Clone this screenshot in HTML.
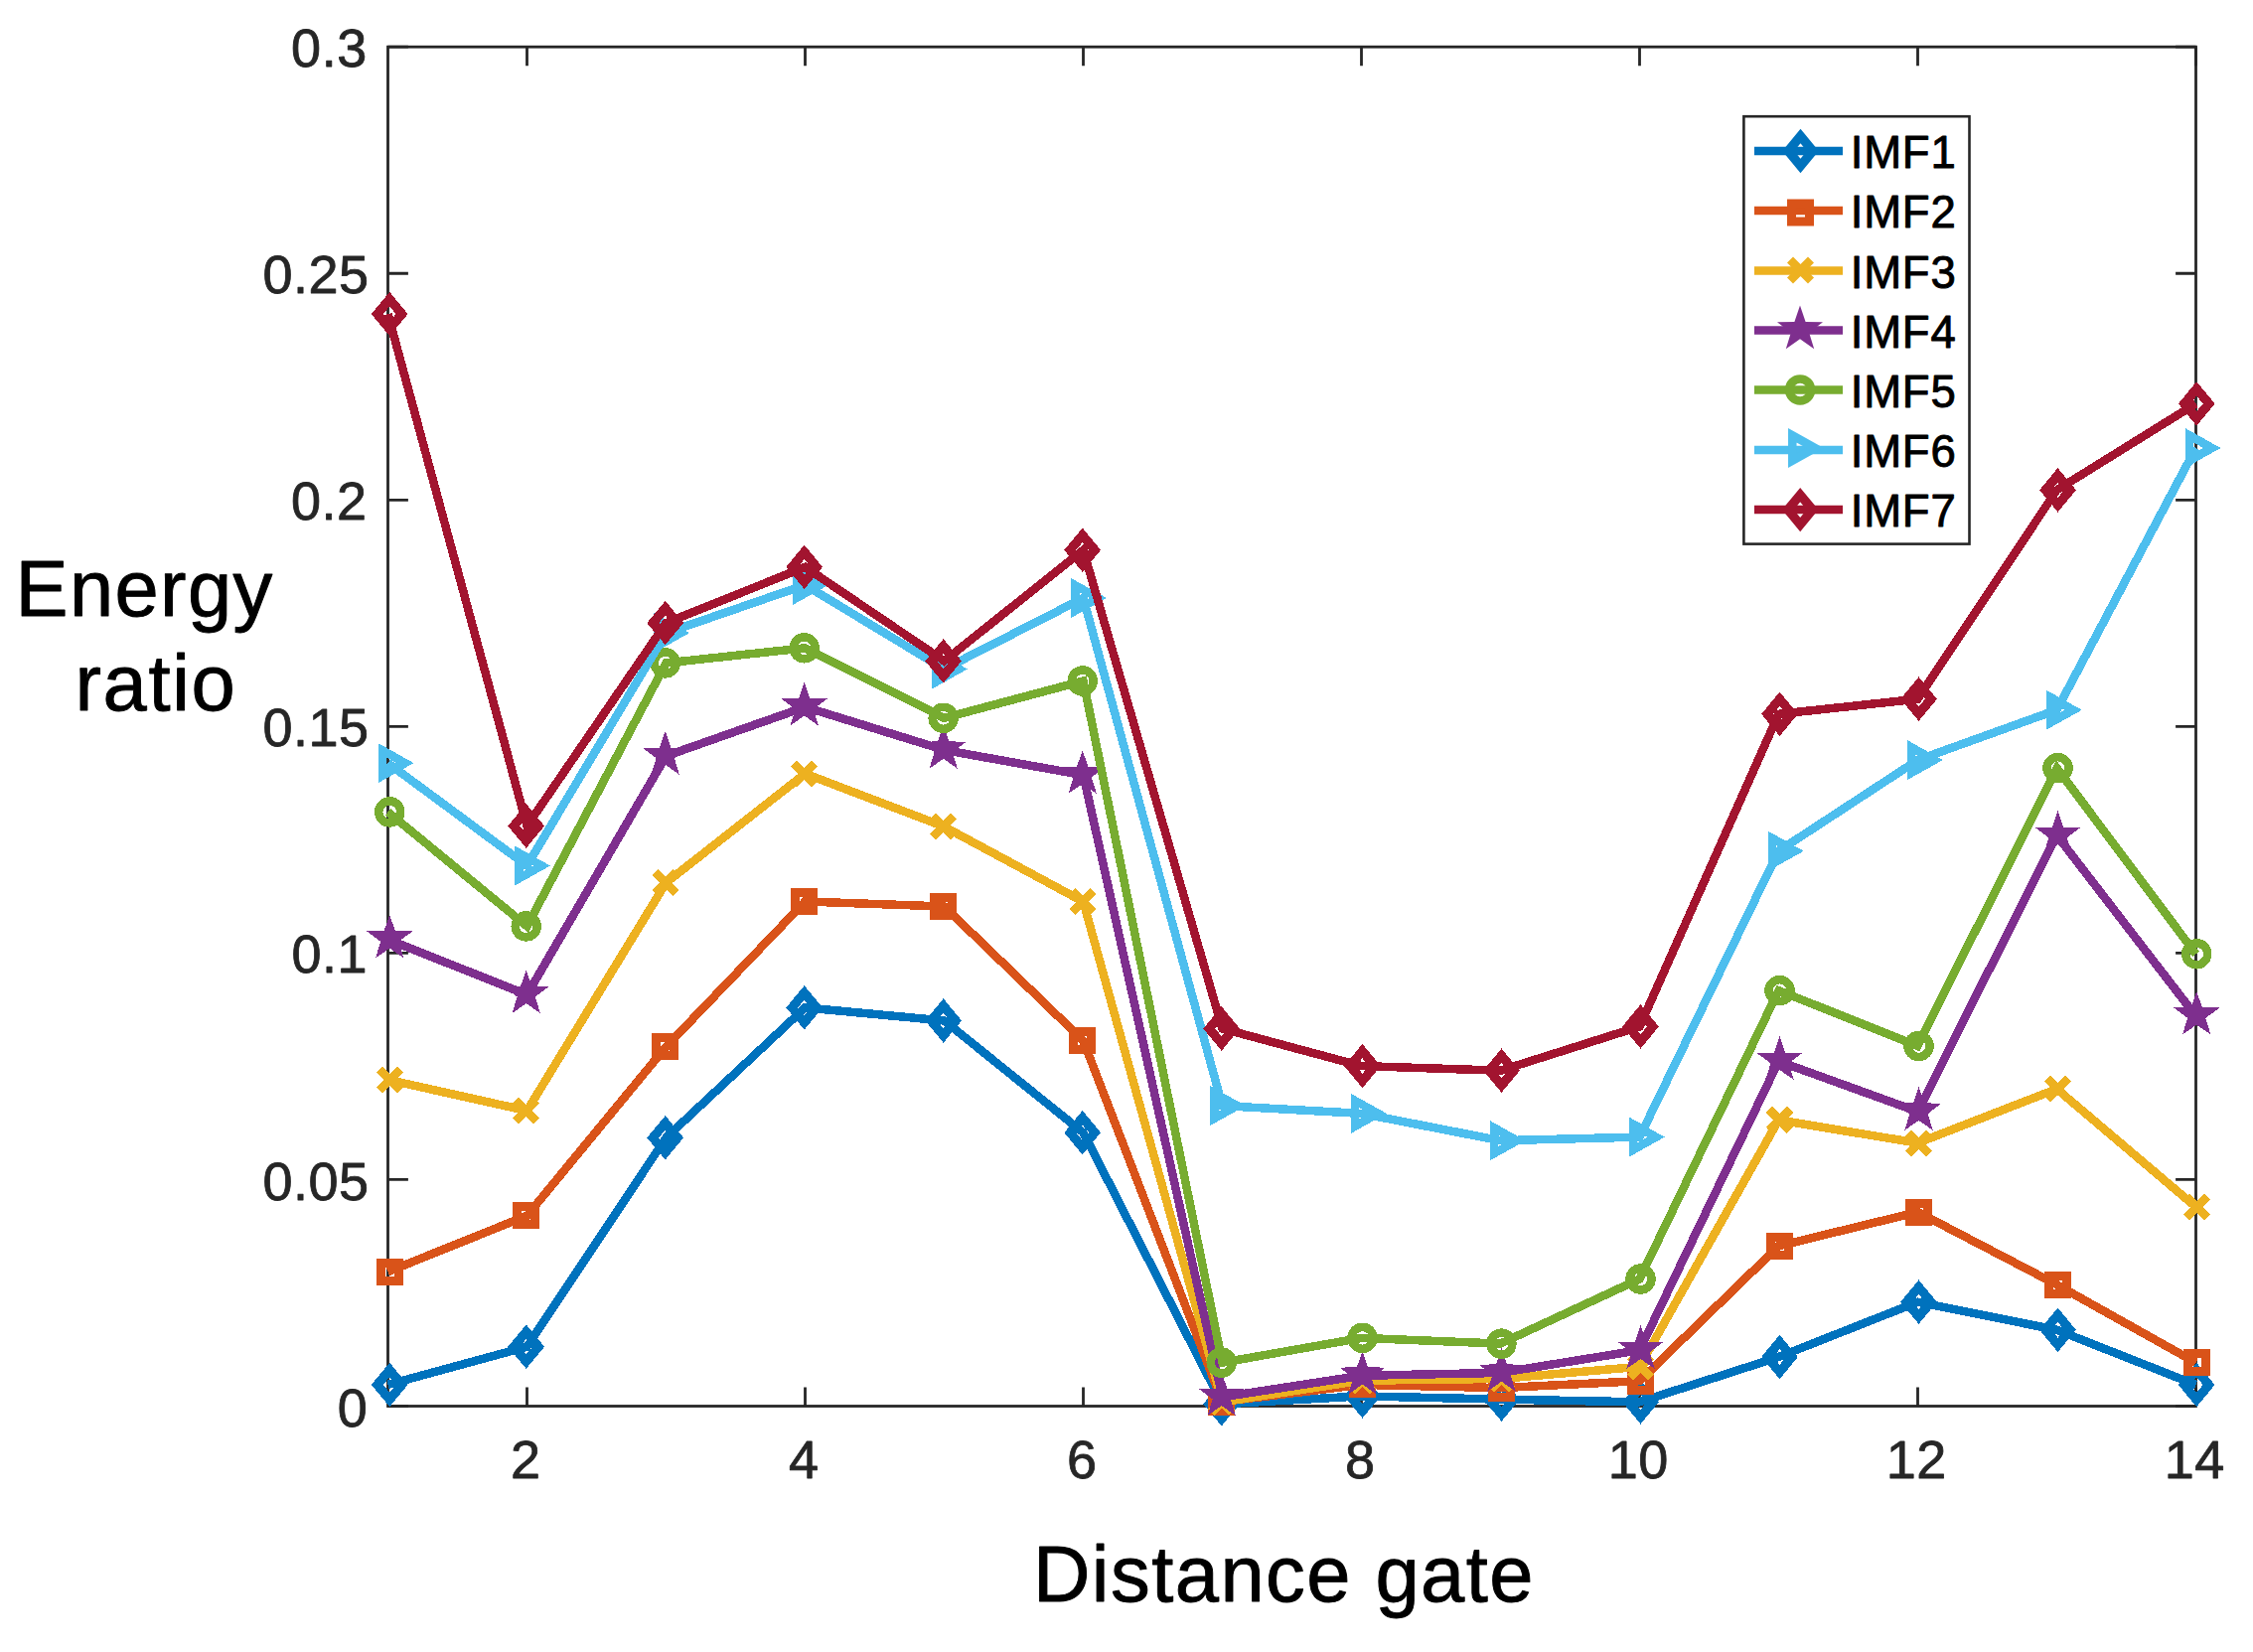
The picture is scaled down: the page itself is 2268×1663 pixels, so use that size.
<!DOCTYPE html>
<html><head><meta charset="utf-8"><title>Energy ratio vs distance gate</title>
<style>html,body{margin:0;padding:0;background:#fff}svg{display:block}text{font-family:"Liberation Sans",sans-serif}</style></head><body>
<svg width="2268" height="1663" viewBox="0 0 2268 1663">
<rect width="2268" height="1663" fill="#fff"/>
<g stroke="#262626" stroke-width="2.8" fill="none" stroke-linecap="butt">
<rect x="390.5" y="47.2" width="1820.0" height="1368.3"/>
<path d="M530.5 1415.5v-19.0M530.5 47.2v19.0"/>
<path d="M810.5 1415.5v-19.0M810.5 47.2v19.0"/>
<path d="M1090.5 1415.5v-19.0M1090.5 47.2v19.0"/>
<path d="M1370.5 1415.5v-19.0M1370.5 47.2v19.0"/>
<path d="M1650.5 1415.5v-19.0M1650.5 47.2v19.0"/>
<path d="M1930.5 1415.5v-19.0M1930.5 47.2v19.0"/>
<path d="M2210.5 1415.5v-19.0M2210.5 47.2v19.0"/>
<path d="M390.5 1415.50h20.4M2210.5 1415.50h-20.4"/>
<path d="M390.5 1187.45h20.4M2210.5 1187.45h-20.4"/>
<path d="M390.5 959.40h20.4M2210.5 959.40h-20.4"/>
<path d="M390.5 731.35h20.4M2210.5 731.35h-20.4"/>
<path d="M390.5 503.30h20.4M2210.5 503.30h-20.4"/>
<path d="M390.5 275.25h20.4M2210.5 275.25h-20.4"/>
<path d="M390.5 47.20h20.4M2210.5 47.20h-20.4"/>
</g>
<g fill="#262626" font-size="54" stroke="#262626" stroke-width="0.8" stroke-linejoin="round" letter-spacing="0.5">
<text x="529.2" y="1488.4" text-anchor="middle">2</text>
<text x="809.2" y="1488.4" text-anchor="middle">4</text>
<text x="1089.2" y="1488.4" text-anchor="middle">6</text>
<text x="1369.2" y="1488.4" text-anchor="middle">8</text>
<text x="1649.2" y="1488.4" text-anchor="middle">10</text>
<text x="1929.2" y="1488.4" text-anchor="middle">12</text>
<text x="2209.2" y="1488.4" text-anchor="middle">14</text>
<text x="370.2" y="1435.5" text-anchor="end">0</text>
<text x="371.5" y="1207.5" text-anchor="end">0.05</text>
<text x="370.0" y="979.4" text-anchor="end">0.1</text>
<text x="371.5" y="751.4" text-anchor="end">0.15</text>
<text x="369.5" y="523.3" text-anchor="end">0.2</text>
<text x="371.5" y="295.2" text-anchor="end">0.25</text>
<text x="369.7" y="67.2" text-anchor="end">0.3</text>
</g>
<g fill="#000" font-size="79.5" stroke="#000" stroke-width="0.9" stroke-linejoin="round">
<text x="15.5" y="620.3" letter-spacing="1.38">Energy</text>
<text x="75.5" y="715.3" letter-spacing="1.65">ratio</text>
<text x="1040" y="1611.7" letter-spacing="1.45">Distance gate</text>
</g>
<g shape-rendering="crispEdges">
<polyline points="390.5,1393.9 530.5,1355.7 670.5,1145.3 810.5,1014.4 950.5,1027.5 1090.5,1140.2 1230.5,1413.3 1370.5,1405.4 1510.5,1408.6 1650.5,1411.3 1790.5,1366.0 1930.5,1310.7 2070.5,1338.8 2210.5,1394.0" fill="none" stroke="#0072BD" stroke-width="8.5" stroke-linejoin="miter" stroke-miterlimit="3"/>
<path d="M392.2 1378.9L404.6 1393.9L392.2 1408.9L379.8 1393.9Z" fill="none" stroke="#0072BD" stroke-width="9.2"/>
<path d="M529.7 1340.7L542.1 1355.7L529.7 1370.7L517.3 1355.7Z" fill="none" stroke="#0072BD" stroke-width="9.2"/>
<path d="M669.7 1130.3L682.1 1145.3L669.7 1160.3L657.3 1145.3Z" fill="none" stroke="#0072BD" stroke-width="9.2"/>
<path d="M809.7 999.4L822.1 1014.4L809.7 1029.4L797.3 1014.4Z" fill="none" stroke="#0072BD" stroke-width="9.2"/>
<path d="M949.7 1012.5L962.1 1027.5L949.7 1042.5L937.3 1027.5Z" fill="none" stroke="#0072BD" stroke-width="9.2"/>
<path d="M1089.7 1125.2L1102.1 1140.2L1089.7 1155.2L1077.3 1140.2Z" fill="none" stroke="#0072BD" stroke-width="9.2"/>
<path d="M1229.7 1398.3L1242.1 1413.3L1229.7 1428.3L1217.3 1413.3Z" fill="none" stroke="#0072BD" stroke-width="9.2"/>
<path d="M1371.5 1390.4L1383.9 1405.4L1371.5 1420.4L1359.1 1405.4Z" fill="none" stroke="#0072BD" stroke-width="9.2"/>
<path d="M1511.5 1393.6L1523.9 1408.6L1511.5 1423.6L1499.1 1408.6Z" fill="none" stroke="#0072BD" stroke-width="9.2"/>
<path d="M1651.5 1396.3L1663.9 1411.3L1651.5 1426.3L1639.1 1411.3Z" fill="none" stroke="#0072BD" stroke-width="9.2"/>
<path d="M1791.5 1351.0L1803.9 1366.0L1791.5 1381.0L1779.1 1366.0Z" fill="none" stroke="#0072BD" stroke-width="9.2"/>
<path d="M1931.5 1295.7L1943.9 1310.7L1931.5 1325.7L1919.1 1310.7Z" fill="none" stroke="#0072BD" stroke-width="9.2"/>
<path d="M2071.5 1323.8L2083.9 1338.8L2071.5 1353.8L2059.1 1338.8Z" fill="none" stroke="#0072BD" stroke-width="9.2"/>
<path d="M2211.2 1379.0L2223.6 1394.0L2211.2 1409.0L2198.8 1394.0Z" fill="none" stroke="#0072BD" stroke-width="9.2"/>
</g>
<g shape-rendering="crispEdges">
<polyline points="390.5,1280.2 530.5,1223.8 670.5,1053.7 810.5,907.5 950.5,912.5 1090.5,1047.6 1230.5,1411.0 1370.5,1393.9 1510.5,1397.1 1650.5,1390.2 1790.5,1254.3 1930.5,1220.1 2070.5,1293.2 2210.5,1371.7" fill="none" stroke="#D95319" stroke-width="8.5" stroke-linejoin="miter" stroke-miterlimit="3"/>
<rect x="383.2" y="1271.2" width="18.0" height="18.0" fill="none" stroke="#D95319" stroke-width="9.0"/>
<rect x="520.7" y="1214.8" width="18.0" height="18.0" fill="none" stroke="#D95319" stroke-width="9.0"/>
<rect x="660.7" y="1044.7" width="18.0" height="18.0" fill="none" stroke="#D95319" stroke-width="9.0"/>
<rect x="800.7" y="898.5" width="18.0" height="18.0" fill="none" stroke="#D95319" stroke-width="9.0"/>
<rect x="940.7" y="903.5" width="18.0" height="18.0" fill="none" stroke="#D95319" stroke-width="9.0"/>
<rect x="1080.7" y="1038.6" width="18.0" height="18.0" fill="none" stroke="#D95319" stroke-width="9.0"/>
<rect x="1220.7" y="1402.0" width="18.0" height="18.0" fill="none" stroke="#D95319" stroke-width="9.0"/>
<rect x="1362.5" y="1384.9" width="18.0" height="18.0" fill="none" stroke="#D95319" stroke-width="9.0"/>
<rect x="1502.5" y="1388.1" width="18.0" height="18.0" fill="none" stroke="#D95319" stroke-width="9.0"/>
<rect x="1642.5" y="1381.2" width="18.0" height="18.0" fill="none" stroke="#D95319" stroke-width="9.0"/>
<rect x="1782.5" y="1245.3" width="18.0" height="18.0" fill="none" stroke="#D95319" stroke-width="9.0"/>
<rect x="1922.5" y="1211.1" width="18.0" height="18.0" fill="none" stroke="#D95319" stroke-width="9.0"/>
<rect x="2062.5" y="1284.2" width="18.0" height="18.0" fill="none" stroke="#D95319" stroke-width="9.0"/>
<rect x="2202.2" y="1362.7" width="18.0" height="18.0" fill="none" stroke="#D95319" stroke-width="9.0"/>
</g>
<g shape-rendering="crispEdges">
<polyline points="390.5,1086.9 530.5,1118.1 670.5,888.6 810.5,778.8 950.5,832.2 1090.5,907.7 1230.5,1411.3 1370.5,1389.7 1510.5,1387.9 1650.5,1375.8 1790.5,1127.5 1930.5,1150.6 2070.5,1096.2 2210.5,1215.0" fill="none" stroke="#EDB120" stroke-width="8.5" stroke-linejoin="miter" stroke-miterlimit="3"/>
<path d="M381.7 1076.4L402.7 1097.4M381.7 1097.4L402.7 1076.4" fill="none" stroke="#EDB120" stroke-width="8.5"/>
<path d="M519.2 1107.6L540.2 1128.6M519.2 1128.6L540.2 1107.6" fill="none" stroke="#EDB120" stroke-width="8.5"/>
<path d="M659.2 878.1L680.2 899.1M659.2 899.1L680.2 878.1" fill="none" stroke="#EDB120" stroke-width="8.5"/>
<path d="M799.2 768.3L820.2 789.3M799.2 789.3L820.2 768.3" fill="none" stroke="#EDB120" stroke-width="8.5"/>
<path d="M939.2 821.7L960.2 842.7M939.2 842.7L960.2 821.7" fill="none" stroke="#EDB120" stroke-width="8.5"/>
<path d="M1079.2 897.2L1100.2 918.2M1079.2 918.2L1100.2 897.2" fill="none" stroke="#EDB120" stroke-width="8.5"/>
<path d="M1219.2 1400.8L1240.2 1421.8M1219.2 1421.8L1240.2 1400.8" fill="none" stroke="#EDB120" stroke-width="8.5"/>
<path d="M1361.0 1379.2L1382.0 1400.2M1361.0 1400.2L1382.0 1379.2" fill="none" stroke="#EDB120" stroke-width="8.5"/>
<path d="M1501.0 1377.4L1522.0 1398.4M1501.0 1398.4L1522.0 1377.4" fill="none" stroke="#EDB120" stroke-width="8.5"/>
<path d="M1641.0 1365.3L1662.0 1386.3M1641.0 1386.3L1662.0 1365.3" fill="none" stroke="#EDB120" stroke-width="8.5"/>
<path d="M1781.0 1117.0L1802.0 1138.0M1781.0 1138.0L1802.0 1117.0" fill="none" stroke="#EDB120" stroke-width="8.5"/>
<path d="M1921.0 1140.1L1942.0 1161.1M1921.0 1161.1L1942.0 1140.1" fill="none" stroke="#EDB120" stroke-width="8.5"/>
<path d="M2061.0 1085.7L2082.0 1106.7M2061.0 1106.7L2082.0 1085.7" fill="none" stroke="#EDB120" stroke-width="8.5"/>
<path d="M2200.7 1204.5L2221.7 1225.5M2200.7 1225.5L2221.7 1204.5" fill="none" stroke="#EDB120" stroke-width="8.5"/>
</g>
<g shape-rendering="crispEdges">
<polyline points="390.5,945.7 530.5,1001.3 670.5,761.0 810.5,711.7 950.5,755.0 1090.5,780.2 1230.5,1406.3 1370.5,1384.8 1510.5,1381.9 1650.5,1359.2 1790.5,1068.3 1930.5,1119.0 2070.5,841.0 2210.5,1022.8" fill="none" stroke="#7E2F8E" stroke-width="8.5" stroke-linejoin="miter" stroke-miterlimit="3"/>
<polygon points="392.2,920.7 397.8,937.2 415.2,937.5 401.3,947.9 406.4,964.5 392.2,954.5 378.0,964.5 383.1,947.9 369.2,937.5 386.6,937.2" fill="#7E2F8E"/>
<polygon points="529.7,976.3 535.3,992.7 552.7,993.0 538.8,1003.5 543.9,1020.1 529.7,1010.1 515.5,1020.1 520.6,1003.5 506.7,993.0 524.1,992.7" fill="#7E2F8E"/>
<polygon points="669.7,736.0 675.3,752.5 692.7,752.8 678.8,763.2 683.9,779.8 669.7,769.8 655.5,779.8 660.6,763.2 646.7,752.8 664.1,752.5" fill="#7E2F8E"/>
<polygon points="809.7,686.7 815.3,703.1 832.7,703.4 818.8,713.9 823.9,730.5 809.7,720.5 795.5,730.5 800.6,713.9 786.7,703.4 804.1,703.1" fill="#7E2F8E"/>
<polygon points="949.7,730.0 955.3,746.4 972.7,746.7 958.8,757.2 963.9,773.8 949.7,763.8 935.5,773.8 940.6,757.2 926.7,746.7 944.1,746.4" fill="#7E2F8E"/>
<polygon points="1089.7,755.2 1095.3,771.6 1112.7,771.9 1098.8,782.3 1103.9,798.9 1089.7,789.0 1075.5,798.9 1080.6,782.3 1066.7,771.9 1084.1,771.6" fill="#7E2F8E"/>
<polygon points="1229.7,1381.3 1235.3,1397.7 1252.7,1398.0 1238.8,1408.5 1243.9,1425.1 1229.7,1415.1 1215.5,1425.1 1220.6,1408.5 1206.7,1398.0 1224.1,1397.7" fill="#7E2F8E"/>
<polygon points="1371.5,1359.8 1377.1,1376.3 1394.5,1376.6 1380.6,1387.0 1385.7,1403.6 1371.5,1393.6 1357.3,1403.6 1362.4,1387.0 1348.5,1376.6 1365.9,1376.3" fill="#7E2F8E"/>
<polygon points="1511.5,1356.9 1517.1,1373.4 1534.5,1373.7 1520.6,1384.1 1525.7,1400.7 1511.5,1390.7 1497.3,1400.7 1502.4,1384.1 1488.5,1373.7 1505.9,1373.4" fill="#7E2F8E"/>
<polygon points="1651.5,1334.2 1657.1,1350.6 1674.5,1350.9 1660.6,1361.4 1665.7,1378.0 1651.5,1368.0 1637.3,1378.0 1642.4,1361.4 1628.5,1350.9 1645.9,1350.6" fill="#7E2F8E"/>
<polygon points="1791.5,1043.3 1797.1,1059.7 1814.5,1060.0 1800.6,1070.4 1805.7,1087.0 1791.5,1077.1 1777.3,1087.0 1782.4,1070.4 1768.5,1060.0 1785.9,1059.7" fill="#7E2F8E"/>
<polygon points="1931.5,1094.0 1937.1,1110.4 1954.5,1110.7 1940.6,1121.2 1945.7,1137.8 1931.5,1127.8 1917.3,1137.8 1922.4,1121.2 1908.5,1110.7 1925.9,1110.4" fill="#7E2F8E"/>
<polygon points="2071.5,816.0 2077.1,832.5 2094.5,832.8 2080.6,843.2 2085.7,859.8 2071.5,849.8 2057.3,859.8 2062.4,843.2 2048.5,832.8 2065.9,832.5" fill="#7E2F8E"/>
<polygon points="2211.2,997.8 2216.8,1014.2 2234.2,1014.5 2220.3,1024.9 2225.4,1041.5 2211.2,1031.6 2197.0,1041.5 2202.1,1024.9 2188.2,1014.5 2205.6,1014.2" fill="#7E2F8E"/>
</g>
<g shape-rendering="crispEdges">
<polyline points="390.5,817.4 530.5,932.4 670.5,667.4 810.5,652.3 950.5,722.8 1090.5,685.5 1230.5,1371.6 1370.5,1346.9 1510.5,1352.6 1650.5,1287.5 1790.5,997.1 1930.5,1053.0 2070.5,773.1 2210.5,960.3" fill="none" stroke="#77AC30" stroke-width="8.5" stroke-linejoin="miter" stroke-miterlimit="3"/>
<circle cx="392.2" cy="817.4" r="11.0" fill="none" stroke="#77AC30" stroke-width="8.5"/>
<circle cx="529.7" cy="932.4" r="11.0" fill="none" stroke="#77AC30" stroke-width="8.5"/>
<circle cx="669.7" cy="667.4" r="11.0" fill="none" stroke="#77AC30" stroke-width="8.5"/>
<circle cx="809.7" cy="652.3" r="11.0" fill="none" stroke="#77AC30" stroke-width="8.5"/>
<circle cx="949.7" cy="722.8" r="11.0" fill="none" stroke="#77AC30" stroke-width="8.5"/>
<circle cx="1089.7" cy="685.5" r="11.0" fill="none" stroke="#77AC30" stroke-width="8.5"/>
<circle cx="1229.7" cy="1371.6" r="11.0" fill="none" stroke="#77AC30" stroke-width="8.5"/>
<circle cx="1371.5" cy="1346.9" r="11.0" fill="none" stroke="#77AC30" stroke-width="8.5"/>
<circle cx="1511.5" cy="1352.6" r="11.0" fill="none" stroke="#77AC30" stroke-width="8.5"/>
<circle cx="1651.5" cy="1287.5" r="11.0" fill="none" stroke="#77AC30" stroke-width="8.5"/>
<circle cx="1791.5" cy="997.1" r="11.0" fill="none" stroke="#77AC30" stroke-width="8.5"/>
<circle cx="1931.5" cy="1053.0" r="11.0" fill="none" stroke="#77AC30" stroke-width="8.5"/>
<circle cx="2071.5" cy="773.1" r="11.0" fill="none" stroke="#77AC30" stroke-width="8.5"/>
<circle cx="2211.2" cy="960.3" r="11.0" fill="none" stroke="#77AC30" stroke-width="8.5"/>
</g>
<g shape-rendering="crispEdges">
<polyline points="390.5,768.1 530.5,871.5 670.5,637.2 810.5,588.9 950.5,673.5 1090.5,602.0 1230.5,1113.1 1370.5,1120.9 1510.5,1148.2 1650.5,1144.6 1790.5,856.7 1930.5,765.1 2070.5,714.7 2210.5,451.0" fill="none" stroke="#4DBEEE" stroke-width="8.5" stroke-linejoin="miter" stroke-miterlimit="3"/>
<path d="M384.9 755.3L407.8 768.1L384.9 780.9Z" fill="none" stroke="#4DBEEE" stroke-width="8.5" stroke-miterlimit="10"/>
<path d="M522.4 858.7L545.3 871.5L522.4 884.3Z" fill="none" stroke="#4DBEEE" stroke-width="8.5" stroke-miterlimit="10"/>
<path d="M662.4 624.4L685.3 637.2L662.4 650.0Z" fill="none" stroke="#4DBEEE" stroke-width="8.5" stroke-miterlimit="10"/>
<path d="M802.4 576.1L825.3 588.9L802.4 601.7Z" fill="none" stroke="#4DBEEE" stroke-width="8.5" stroke-miterlimit="10"/>
<path d="M942.4 660.7L965.3 673.5L942.4 686.3Z" fill="none" stroke="#4DBEEE" stroke-width="8.5" stroke-miterlimit="10"/>
<path d="M1082.4 589.2L1105.3 602.0L1082.4 614.8Z" fill="none" stroke="#4DBEEE" stroke-width="8.5" stroke-miterlimit="10"/>
<path d="M1222.4 1100.3L1245.3 1113.1L1222.4 1125.9Z" fill="none" stroke="#4DBEEE" stroke-width="8.5" stroke-miterlimit="10"/>
<path d="M1364.2 1108.1L1387.1 1120.9L1364.2 1133.7Z" fill="none" stroke="#4DBEEE" stroke-width="8.5" stroke-miterlimit="10"/>
<path d="M1504.2 1135.4L1527.1 1148.2L1504.2 1161.0Z" fill="none" stroke="#4DBEEE" stroke-width="8.5" stroke-miterlimit="10"/>
<path d="M1644.2 1131.8L1667.1 1144.6L1644.2 1157.4Z" fill="none" stroke="#4DBEEE" stroke-width="8.5" stroke-miterlimit="10"/>
<path d="M1784.2 843.9L1807.1 856.7L1784.2 869.5Z" fill="none" stroke="#4DBEEE" stroke-width="8.5" stroke-miterlimit="10"/>
<path d="M1924.2 752.3L1947.1 765.1L1924.2 777.9Z" fill="none" stroke="#4DBEEE" stroke-width="8.5" stroke-miterlimit="10"/>
<path d="M2064.2 701.9L2087.1 714.7L2064.2 727.5Z" fill="none" stroke="#4DBEEE" stroke-width="8.5" stroke-miterlimit="10"/>
<path d="M2203.9 438.2L2226.8 451.0L2203.9 463.8Z" fill="none" stroke="#4DBEEE" stroke-width="8.5" stroke-miterlimit="10"/>
</g>
<g shape-rendering="crispEdges">
<polyline points="390.5,316.1 530.5,831.5 670.5,627.1 810.5,570.8 950.5,665.4 1090.5,553.7 1230.5,1035.5 1370.5,1073.1 1510.5,1077.7 1650.5,1033.4 1790.5,718.8 1930.5,703.7 2070.5,493.3 2210.5,406.4" fill="none" stroke="#A2142F" stroke-width="8.5" stroke-linejoin="miter" stroke-miterlimit="3"/>
<path d="M392.2 301.1L404.6 316.1L392.2 331.1L379.8 316.1Z" fill="none" stroke="#A2142F" stroke-width="9.2"/>
<path d="M529.7 816.5L542.1 831.5L529.7 846.5L517.3 831.5Z" fill="none" stroke="#A2142F" stroke-width="9.2"/>
<path d="M669.7 612.1L682.1 627.1L669.7 642.1L657.3 627.1Z" fill="none" stroke="#A2142F" stroke-width="9.2"/>
<path d="M809.7 555.8L822.1 570.8L809.7 585.8L797.3 570.8Z" fill="none" stroke="#A2142F" stroke-width="9.2"/>
<path d="M949.7 650.4L962.1 665.4L949.7 680.4L937.3 665.4Z" fill="none" stroke="#A2142F" stroke-width="9.2"/>
<path d="M1089.7 538.7L1102.1 553.7L1089.7 568.7L1077.3 553.7Z" fill="none" stroke="#A2142F" stroke-width="9.2"/>
<path d="M1229.7 1020.5L1242.1 1035.5L1229.7 1050.5L1217.3 1035.5Z" fill="none" stroke="#A2142F" stroke-width="9.2"/>
<path d="M1371.5 1058.1L1383.9 1073.1L1371.5 1088.1L1359.1 1073.1Z" fill="none" stroke="#A2142F" stroke-width="9.2"/>
<path d="M1511.5 1062.7L1523.9 1077.7L1511.5 1092.7L1499.1 1077.7Z" fill="none" stroke="#A2142F" stroke-width="9.2"/>
<path d="M1651.5 1018.4L1663.9 1033.4L1651.5 1048.4L1639.1 1033.4Z" fill="none" stroke="#A2142F" stroke-width="9.2"/>
<path d="M1791.5 703.8L1803.9 718.8L1791.5 733.8L1779.1 718.8Z" fill="none" stroke="#A2142F" stroke-width="9.2"/>
<path d="M1931.5 688.7L1943.9 703.7L1931.5 718.7L1919.1 703.7Z" fill="none" stroke="#A2142F" stroke-width="9.2"/>
<path d="M2071.5 478.3L2083.9 493.3L2071.5 508.3L2059.1 493.3Z" fill="none" stroke="#A2142F" stroke-width="9.2"/>
<path d="M2211.2 391.4L2223.6 406.4L2211.2 421.4L2198.8 406.4Z" fill="none" stroke="#A2142F" stroke-width="9.2"/>
</g>
<rect x="1755.4" y="117.2" width="227.1" height="430.4" fill="#fff" stroke="#262626" stroke-width="2.6"/>
<g font-size="45.5" fill="#000" letter-spacing="0.8">
<path d="M1766 152.0H1855" stroke="#0072BD" stroke-width="8.5" fill="none"/>
<path d="M1812.5 137.0L1824.9 152.0L1812.5 167.0L1800.1 152.0Z" fill="none" stroke="#0072BD" stroke-width="9.2"/>
<text x="1862.7" y="169.2" stroke="#000" stroke-width="0.9" stroke-linejoin="round">IMF1</text>
<path d="M1766 212.0H1855" stroke="#D95319" stroke-width="8.5" fill="none"/>
<rect x="1803.5" y="205.0" width="18.0" height="18.0" fill="none" stroke="#D95319" stroke-width="9.0"/>
<text x="1862.7" y="229.2" stroke="#000" stroke-width="0.9" stroke-linejoin="round">IMF2</text>
<path d="M1766 272.4H1855" stroke="#EDB120" stroke-width="8.5" fill="none"/>
<path d="M1802.0 261.5L1823.0 282.5M1802.0 282.5L1823.0 261.5" fill="none" stroke="#EDB120" stroke-width="8.5"/>
<text x="1862.7" y="289.6" stroke="#000" stroke-width="0.9" stroke-linejoin="round">IMF3</text>
<path d="M1766 332.5H1855" stroke="#7E2F8E" stroke-width="8.5" fill="none"/>
<polygon points="1812.0,307.5 1817.6,323.9 1835.0,324.2 1821.1,334.7 1826.2,351.3 1812.0,341.3 1797.8,351.3 1802.9,334.7 1789.0,324.2 1806.4,323.9" fill="#7E2F8E"/>
<text x="1862.7" y="349.7" stroke="#000" stroke-width="0.9" stroke-linejoin="round">IMF4</text>
<path d="M1766 392.4H1855" stroke="#77AC30" stroke-width="8.5" fill="none"/>
<circle cx="1812.1" cy="392.4" r="11.0" fill="none" stroke="#77AC30" stroke-width="8.5"/>
<text x="1862.7" y="409.6" stroke="#000" stroke-width="0.9" stroke-linejoin="round">IMF5</text>
<path d="M1766 453.0H1855" stroke="#4DBEEE" stroke-width="8.5" fill="none"/>
<path d="M1804.3 438.2L1827.2 451.0L1804.3 463.8Z" fill="none" stroke="#4DBEEE" stroke-width="8.5" stroke-miterlimit="10"/>
<text x="1862.7" y="470.2" stroke="#000" stroke-width="0.9" stroke-linejoin="round">IMF6</text>
<path d="M1766 513.1H1855" stroke="#A2142F" stroke-width="8.5" fill="none"/>
<path d="M1812.2 498.1L1824.6 513.1L1812.2 528.1L1799.8 513.1Z" fill="none" stroke="#A2142F" stroke-width="9.2"/>
<text x="1862.7" y="530.3" stroke="#000" stroke-width="0.9" stroke-linejoin="round">IMF7</text>
</g>
</svg></body></html>
